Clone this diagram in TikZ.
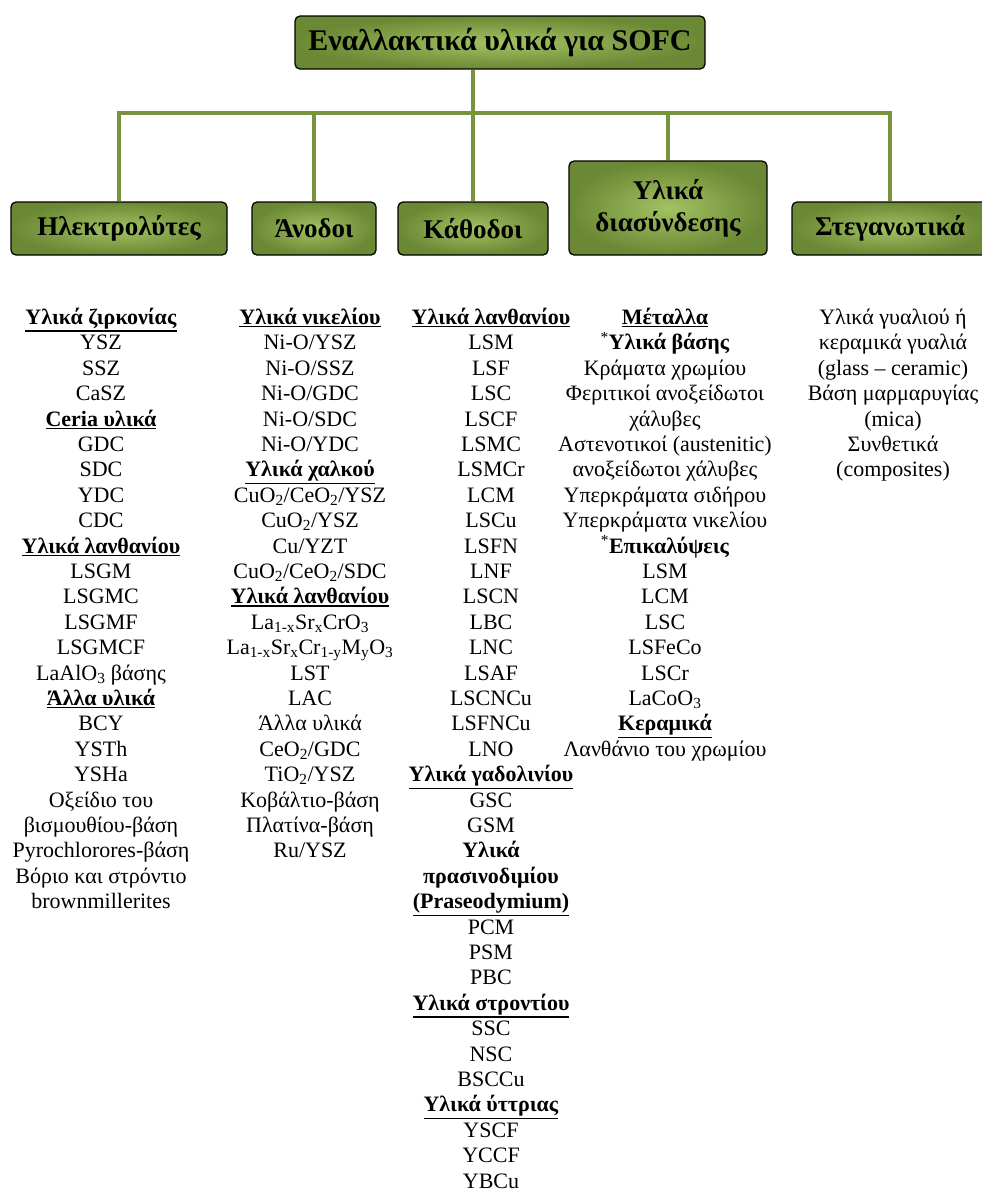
\documentclass[tikz,border=0pt]{standalone}
\usepackage{fontspec}
\setmainfont{Liberation Serif}
\usepackage{xcolor}
\usepackage{tikz}
\usetikzlibrary{positioning}

\definecolor{sofcline}{HTML}{77933C}
\definecolor{boxlight}{HTML}{A3C262}
\definecolor{boxdark}{HTML}{6B8834}

% bold, underlined sub-heading
\newcommand\hd[1]{\leavevmode\vtop{\hbox{\textbf{#1}}\kern1.2pt\hrule height 1.5pt}}

\begin{document}
\begin{tikzpicture}[x=1pt,y=-1pt,
  catbox/.style={draw=black,line width=1.3pt,rounded corners=5pt,
    inner color=boxlight,outer color=boxdark,inner sep=0pt,
    minimum height=53pt,align=center,font=\fontsize{27}{32}\selectfont\bfseries},
  link/.style={draw=sofcline,line width=4pt},
  item/.style={anchor=base,inner sep=0pt,font=\fontsize{22}{25.4}\selectfont}]
\useasboundingbox (0,0) rectangle (982,1195);

% top box and the five categories
\node[catbox,minimum width=410pt,font=\fontsize{30}{34}\selectfont\bfseries] (sofc) at (500,42.5) {Εναλλακτικά υλικά για SOFC};
\node[catbox,minimum width=216pt] (elec) at (119,228.5) {Ηλεκτρολύτες};
\node[catbox,minimum width=124pt] (anod) at (314,228.5) {Άνοδοι};
\node[catbox,minimum width=150pt] (cath) at (473,228.5) {Κάθοδοι};
\node[catbox,minimum width=198pt,minimum height=94pt] (inter) at (668,208) {Υλικά\\διασύνδεσης};
\node[catbox,minimum width=196pt] (seal) at (890,228.5) {Στεγανωτικά};

\coordinate (hub) at (473,113);
\draw[link] (sofc.south -| hub) -- (hub);
\foreach \c in {elec,anod,cath,inter,seal}
\draw[link] (hub) -| (\c.north);

% lists
\foreach \t [count=\i from 0] in {\hd{Υλικά ζιρκονίας},YSZ,SSZ,CaSZ,\hd{Ceria υλικά},GDC,SDC,YDC,CDC,
  \hd{Υλικά λανθανίου},LSGM,LSGMC,LSGMF,LSGMCF,LaAlO\textsubscript{3} βάσης,\hd{Άλλα υλικά},
  BCY,YSTh,YSHa,Οξείδιο του,βισμουθίου-βάση,Pyrochlorores-βάση,Βόριο και στρόντιο,brownmillerites}
\node[item] (el\i) at (101,324.5+25.4*\i) {\t};

\foreach \t [count=\i from 0] in {\hd{Υλικά νικελίου},Ni-O/YSZ,Ni-O/SSZ,Ni-O/GDC,Ni-O/SDC,Ni-O/YDC,
  \hd{Υλικά χαλκού},CuO\textsubscript{2}/CeO\textsubscript{2}/YSZ,CuO\textsubscript{2}/YSZ,Cu/YZT,
  CuO\textsubscript{2}/CeO\textsubscript{2}/SDC,\hd{Υλικά λανθανίου},
  La\textsubscript{1-x}Sr\textsubscript{x}CrO\textsubscript{3},
  La\textsubscript{1-x}Sr\textsubscript{x}Cr\textsubscript{1-y}M\textsubscript{y}O\textsubscript{3},
  LST,LAC,Άλλα υλικά,CeO\textsubscript{2}/GDC,TiO\textsubscript{2}/YSZ,Κοβάλτιο-βάση,Πλατίνα-βάση,Ru/YSZ}
\node[item] (an\i) at (310,324.5+25.4*\i) {\t};

\foreach \t [count=\i from 0] in {\hd{Υλικά λανθανίου},LSM,LSF,LSC,LSCF,LSMC,LSMCr,LCM,LSCu,LSFN,LNF,
  LSCN,LBC,LNC,LSAF,LSCNCu,LSFNCu,LNO,\hd{Υλικά γαδολινίου},GSC,GSM,\textbf{Υλικά},\textbf{πρασινοδιμίου},
  \hd{(Praseodymium)},PCM,PSM,PBC,\hd{Υλικά στροντίου},SSC,NSC,BSCCu,\hd{Υλικά ύττριας},YSCF,YCCF,YBCu}
\node[item] (ca\i) at (491,324.5+25.4*\i) {\t};

\foreach \t [count=\i from 0] in {\hd{Μέταλλα},\textsuperscript{*}\textbf{Υλικά βάσης},Κράματα χρωμίου,
  Φεριτικοί ανοξείδωτοι,χάλυβες,Αστενοτικοί (austenitic),ανοξείδωτοι χάλυβες,Υπερκράματα σιδήρου,
  Υπερκράματα νικελίου,\textsuperscript{*}\textbf{Επικαλύψεις},LSM,LCM,LSC,LSFeCo,LSCr,
  LaCoO\textsubscript{3},\hd{Κεραμικά},Λανθάνιο του χρωμίου}
\node[item] (me\i) at (665,324.5+25.4*\i) {\t};

\foreach \t [count=\i from 0] in {Υλικά γυαλιού ή,κεραμικά γυαλιά,(glass – ceramic),Βάση μαρμαρυγίας,
  (mica),Συνθετικά,(composites)}
\node[item] (se\i) at (893,324.5+25.4*\i) {\t};
\end{tikzpicture}
\end{document}
